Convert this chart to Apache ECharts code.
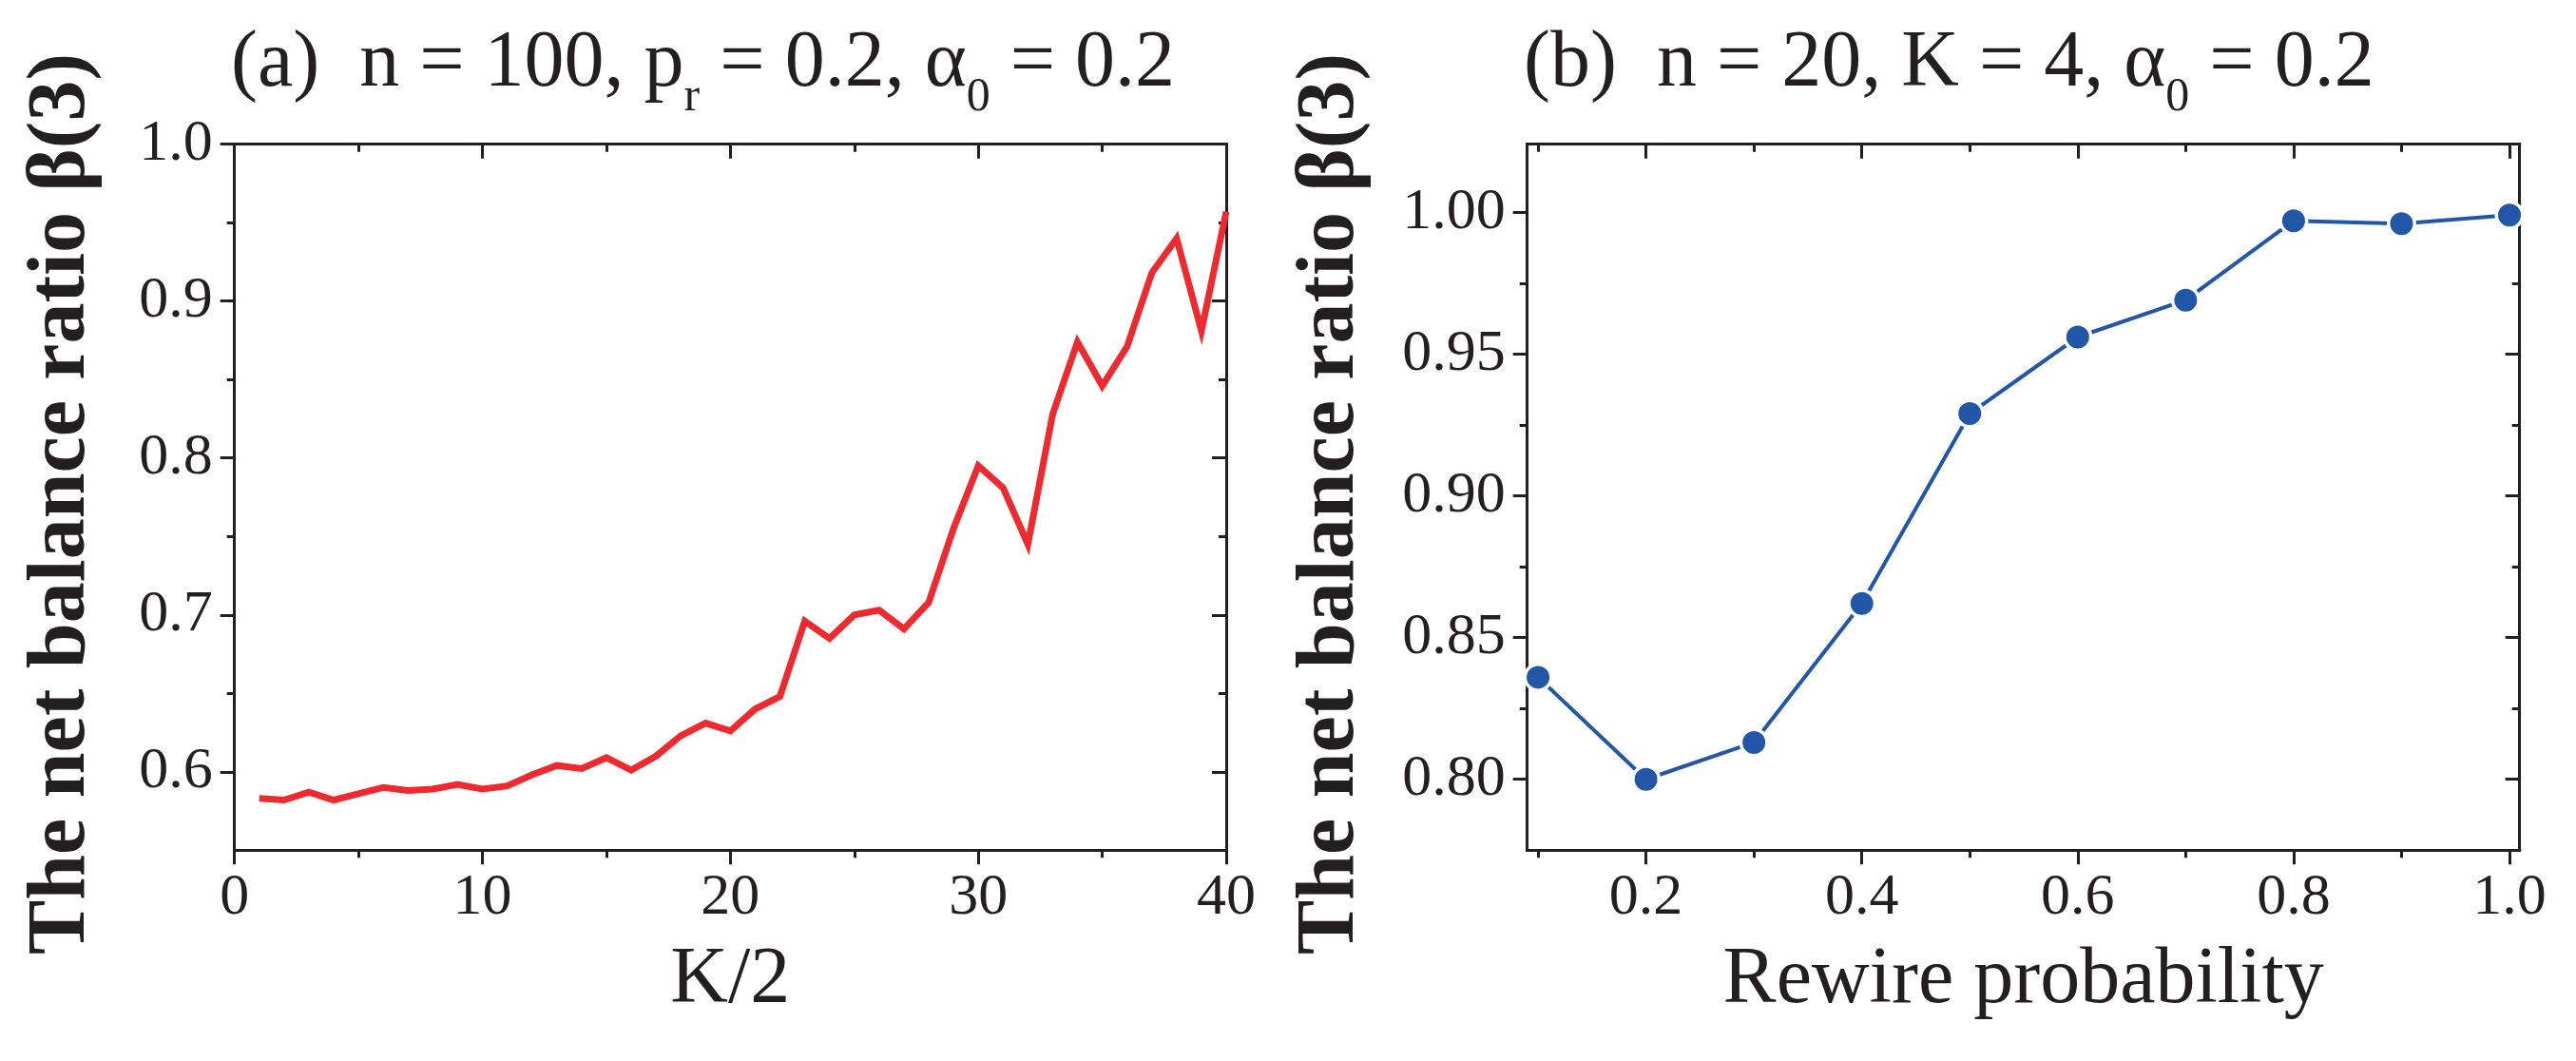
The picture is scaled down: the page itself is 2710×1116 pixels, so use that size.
<!DOCTYPE html>
<html>
<head>
<meta charset="utf-8">
<script src="https://cdn.jsdelivr.net/npm/echarts@6/dist/echarts.min.js"></script>
<style>
html,body{margin:0;padding:0;background:#fff;}
#chart{width:2710px;height:1116px;}
</style>
</head>
<body>
<div id="chart"></div>
<script>
// ---- data (a) ----
const kHalf = [1,2,3,4,5,6,7,8,9,10,11,12,13,14,15,16,17,18,19,20,21,22,23,24,25,26,27,28,29,30,31,32,33,34,35,36,37,38,39,40];
const betaA = [0.583,0.582,0.587,0.582,0.586,0.590,0.588,0.589,0.592,0.589,
               0.591,0.598,0.604,0.602,0.609,0.601,0.610,0.623,0.631,0.626,
               0.640,0.648,0.696,0.685,0.700,0.703,0.691,0.708,0.755,0.795,
               0.781,0.745,0.828,0.874,0.846,0.871,0.918,0.940,0.881,0.957];
// ---- data (b) ----
const rewire = [0.1,0.2,0.3,0.4,0.5,0.6,0.7,0.8,0.9,1.0];
const betaB = [0.836,0.800,0.813,0.862,0.929,0.956,0.969,0.997,0.996,0.999];

// ---- ticks ----
const xMajorA = [0,10,20,30,40];
const xMinorA = [5,15,25,35];
const yMajorA = [0.6,0.7,0.8,0.9,1.0];
const yMinorA = [0.65,0.75,0.85,0.95];
const xMajorB = [0.2,0.4,0.6,0.8,1.0];
const xMinorB = [0.1,0.3,0.5,0.7,0.9];
const yMajorB = [0.80,0.85,0.90,0.95,1.00];
const yMinorB = [0.825,0.875,0.925,0.975];

const titleA = ['(a)  n = 100, p', 'r', ' = 0.2, α', '0', ' = 0.2'];
const titleB = ['(b)  n = 20, K = 4, α', '0', ' = 0.2'];
const xNameA = 'K/2';
const xNameB = 'Rewire probability';
const yName = 'The net balance ratio β(3)';

const ink = '#231f20';
const serif = 'Liberation Serif';
const red = '#ee2a2e';
const blue = '#2256a6';

function axisSet(dim, gridIndex, min, max, majors, minors, fmt, name, nameGap) {
  const isX = dim === 'x';
  const posMain = isX ? 'bottom' : 'left';
  const posMirror = isX ? 'top' : 'right';
  const base = {type:'value', gridIndex, min, max, splitLine:{show:false}, silent:true};
  const line = {show:true, onZero:false, lineStyle:{color:ink, width:3, cap:'square'}};
  const mainMajor = Object.assign({}, base, {
    position: posMain,
    axisLine: line,
    axisTick: {show:true, inside:false, length:15, lineStyle:{color:ink, width:3}, customValues: majors},
    axisLabel: {show:true, customValues: majors, margin: isX ? 19 : 23, fontFamily: serif, fontSize: 62, color: ink,
                formatter: fmt, showMinLabel:true, showMaxLabel:true, hideOverlap:false},
    name: name,
    nameLocation: 'middle',
    nameGap: nameGap,
    nameRotate: isX ? 0 : 90,
    nameTextStyle: isX ? {fontFamily: serif, fontSize: 84, color: ink}
                       : {fontFamily: serif, fontSize: 86, fontWeight: 'bold', color: ink, padding: [0, 14, 0, 0]}
  });
  const mainMinor = Object.assign({}, base, {
    position: posMain,
    axisLine: {show:false, onZero:false},
    axisTick: {show:true, inside:false, length:8, lineStyle:{color:ink, width:3}, customValues: minors},
    axisLabel: {show:false}
  });
  const mirMajor = Object.assign({}, base, {
    position: posMirror,
    axisLine: line,
    axisTick: {show:true, inside:true, length:15, lineStyle:{color:ink, width:3}, customValues: majors},
    axisLabel: {show:false}
  });
  const mirMinor = Object.assign({}, base, {
    position: posMirror,
    axisLine: {show:false, onZero:false},
    axisTick: {show:true, inside:true, length:8, lineStyle:{color:ink, width:3}, customValues: minors},
    axisLabel: {show:false}
  });
  return [mainMajor, mainMinor, mirMajor, mirMinor];
}

function richTitle(parts) {
  // even index: normal text, odd index: subscript
  return parts.map((p, i) => (i % 2 === 0 ? '{t|' : '{s|') + p + '}').join('');
}
const titleRich = {
  t: {fontFamily: serif, fontSize: 84, fontWeight: 'normal', lineHeight: 84, color: ink, verticalAlign: 'bottom', padding: [0,0,18,0]},
  s: {fontFamily: serif, fontSize: 50, fontWeight: 'normal', lineHeight: 50, color: ink, verticalAlign: 'bottom'}
};

const chart = echarts.init(document.getElementById('chart'), null, {renderer: 'canvas'});
const option = {
  backgroundColor: '#ffffff',
  animation: false,
  title: [
    {text: richTitle(titleA), left: 243, top: 44, padding: 0, textStyle: {fontWeight: 'normal', rich: titleRich}},
    {text: richTitle(titleB), left: 1603, top: 44, padding: 0, textStyle: {fontWeight: 'normal', rich: titleRich}}
  ],
  grid: [
    {left: 246.7, right: 1420, top: 151.7, bottom: 221.7, containLabel: false},
    {left: 1606.7, right: 59.3, top: 151.7, bottom: 221.7, containLabel: false}
  ],
  xAxis: [
    ...axisSet('x', 0, 0, 40, xMajorA, xMinorA, v => String(v), xNameA, 96),
    ...axisSet('x', 1, 0.09, 1.0094, xMajorB, xMinorB, v => v.toFixed(1), xNameB, 96)
  ],
  yAxis: [
    ...axisSet('y', 0, 0.55, 1.0, yMajorA, yMinorA, v => v.toFixed(1), yName, 138),
    ...axisSet('y', 1, 0.775, 1.024, yMajorB, yMinorB, v => v.toFixed(2), yName, 163)
  ],
  series: [
    {
      type: 'line', xAxisIndex: 0, yAxisIndex: 0,
      data: kHalf.map((k, i) => [k, betaA[i]]),
      showSymbol: false, symbol: 'none',
      lineStyle: {color: red, width: 7, join: 'miter'},
      emphasis: {disabled: true}
    },
    {
      type: 'line', xAxisIndex: 4, yAxisIndex: 4,
      data: rewire.map((r, i) => [r, betaB[i]]),
      symbol: 'circle', symbolSize: 27.5, showSymbol: true,
      lineStyle: {color: blue, width: 4},
      itemStyle: {color: blue, borderColor: '#ffffff', borderWidth: 3.5},
      emphasis: {disabled: true}
    }
  ]
};
chart.setOption(option);
</script>
</body>
</html>
